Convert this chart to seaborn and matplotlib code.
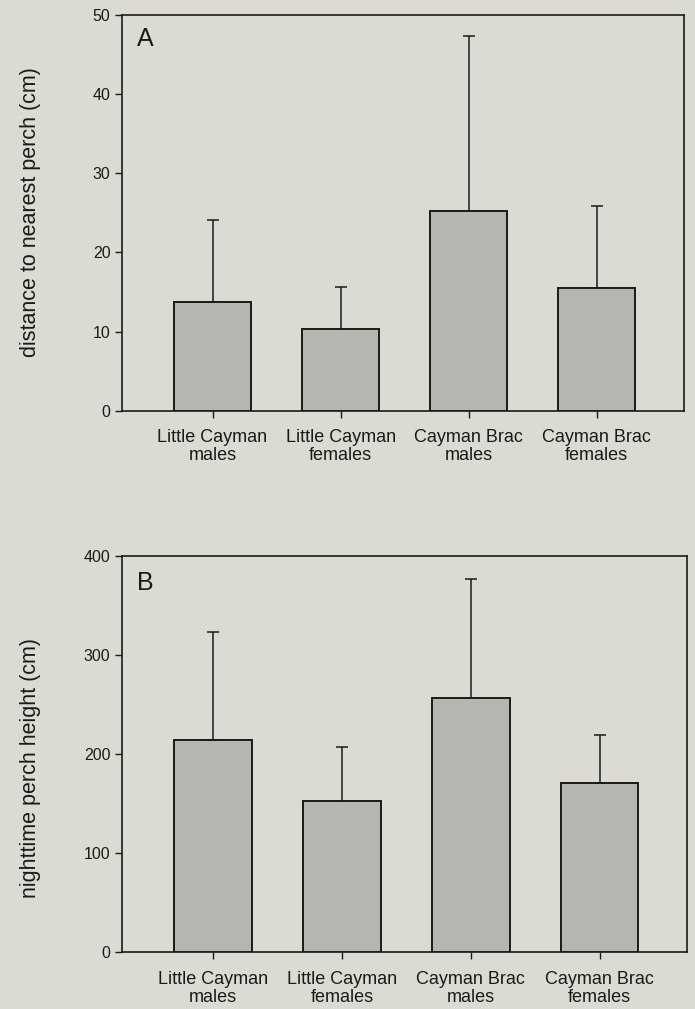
import matplotlib
matplotlib.use("Agg")
import matplotlib.pyplot as plt
import seaborn as sns
import pandas as pd

categories = ["Little Cayman\nmales", "Little Cayman\nfemales", "Cayman Brac\nmales", "Cayman Brac\nfemales"]
distance_mean = [13.7, 10.3, 25.2, 15.5]
distance_upper = [24.1, 15.6, 47.4, 25.9]
height_mean = [214, 153, 257, 171]
height_upper = [323, 207, 377, 219]

sns.set_theme(style="ticks")
plt.rcParams["font.family"] = ["Liberation Sans", "DejaVu Sans"]

BG = "#dcdbd3"
BAR = "#b6b6b1"
INK = "#1a1a1a"

fig = plt.figure(figsize=(6.95, 10.09), dpi=100)
fig.patch.set_facecolor(BG)

axA = fig.add_axes([0.175, 0.593, 0.809, 0.392])
axB = fig.add_axes([0.175, 0.056, 0.814, 0.393])

def panel(ax, means, upper, ymax, yticks, ylabel, letter, lab_y, let_y):
    df = pd.DataFrame({"cat": categories, "val": means})
    sns.barplot(data=df, x="cat", y="val", ax=ax, color=BAR, saturation=1,
                width=0.6, edgecolor=INK, linewidth=1.4, zorder=3)
    errs = [u - m for u, m in zip(upper, means)]
    ax.errorbar(range(len(means)), means, yerr=[[0] * len(means), errs],
                fmt="none", ecolor=INK, elinewidth=1.1, capsize=4.5,
                capthick=1.1, zorder=2)
    ax.set_facecolor(BG)
    ax.set_xlim(-0.71, 3.68)
    ax.set_ylim(0, ymax)
    ax.set_yticks(yticks)
    ax.set_xlabel("")
    ax.set_ylabel(ylabel, fontsize=15.5, color=INK)
    ax.yaxis.set_label_coords(-0.143, lab_y)
    ax.tick_params(axis="y", direction="out", length=5, width=1, labelsize=11.5,
                   pad=3, colors=INK)
    ax.tick_params(axis="x", direction="out", length=5, width=1, labelsize=13,
                   pad=8, colors=INK)
    for lbl in ax.get_xticklabels():
        lbl.set_linespacing(1.12)
    for s in ax.spines.values():
        s.set_visible(True)
        s.set_color(INK)
        s.set_linewidth(1.2)
    ax.text(0.027, let_y, letter, transform=ax.transAxes, fontsize=18,
            ha="left", va="center", color=INK)

panel(axA, distance_mean, distance_upper, 50, [0, 10, 20, 30, 40, 50],
      "distance to nearest perch (cm)", "A", 0.503, 0.94)
panel(axB, height_mean, height_upper, 400, [0, 100, 200, 300, 400],
      "nighttime perch height (cm)", "B", 0.466, 0.932)

fig.savefig("out.png", dpi=100, facecolor=BG)
